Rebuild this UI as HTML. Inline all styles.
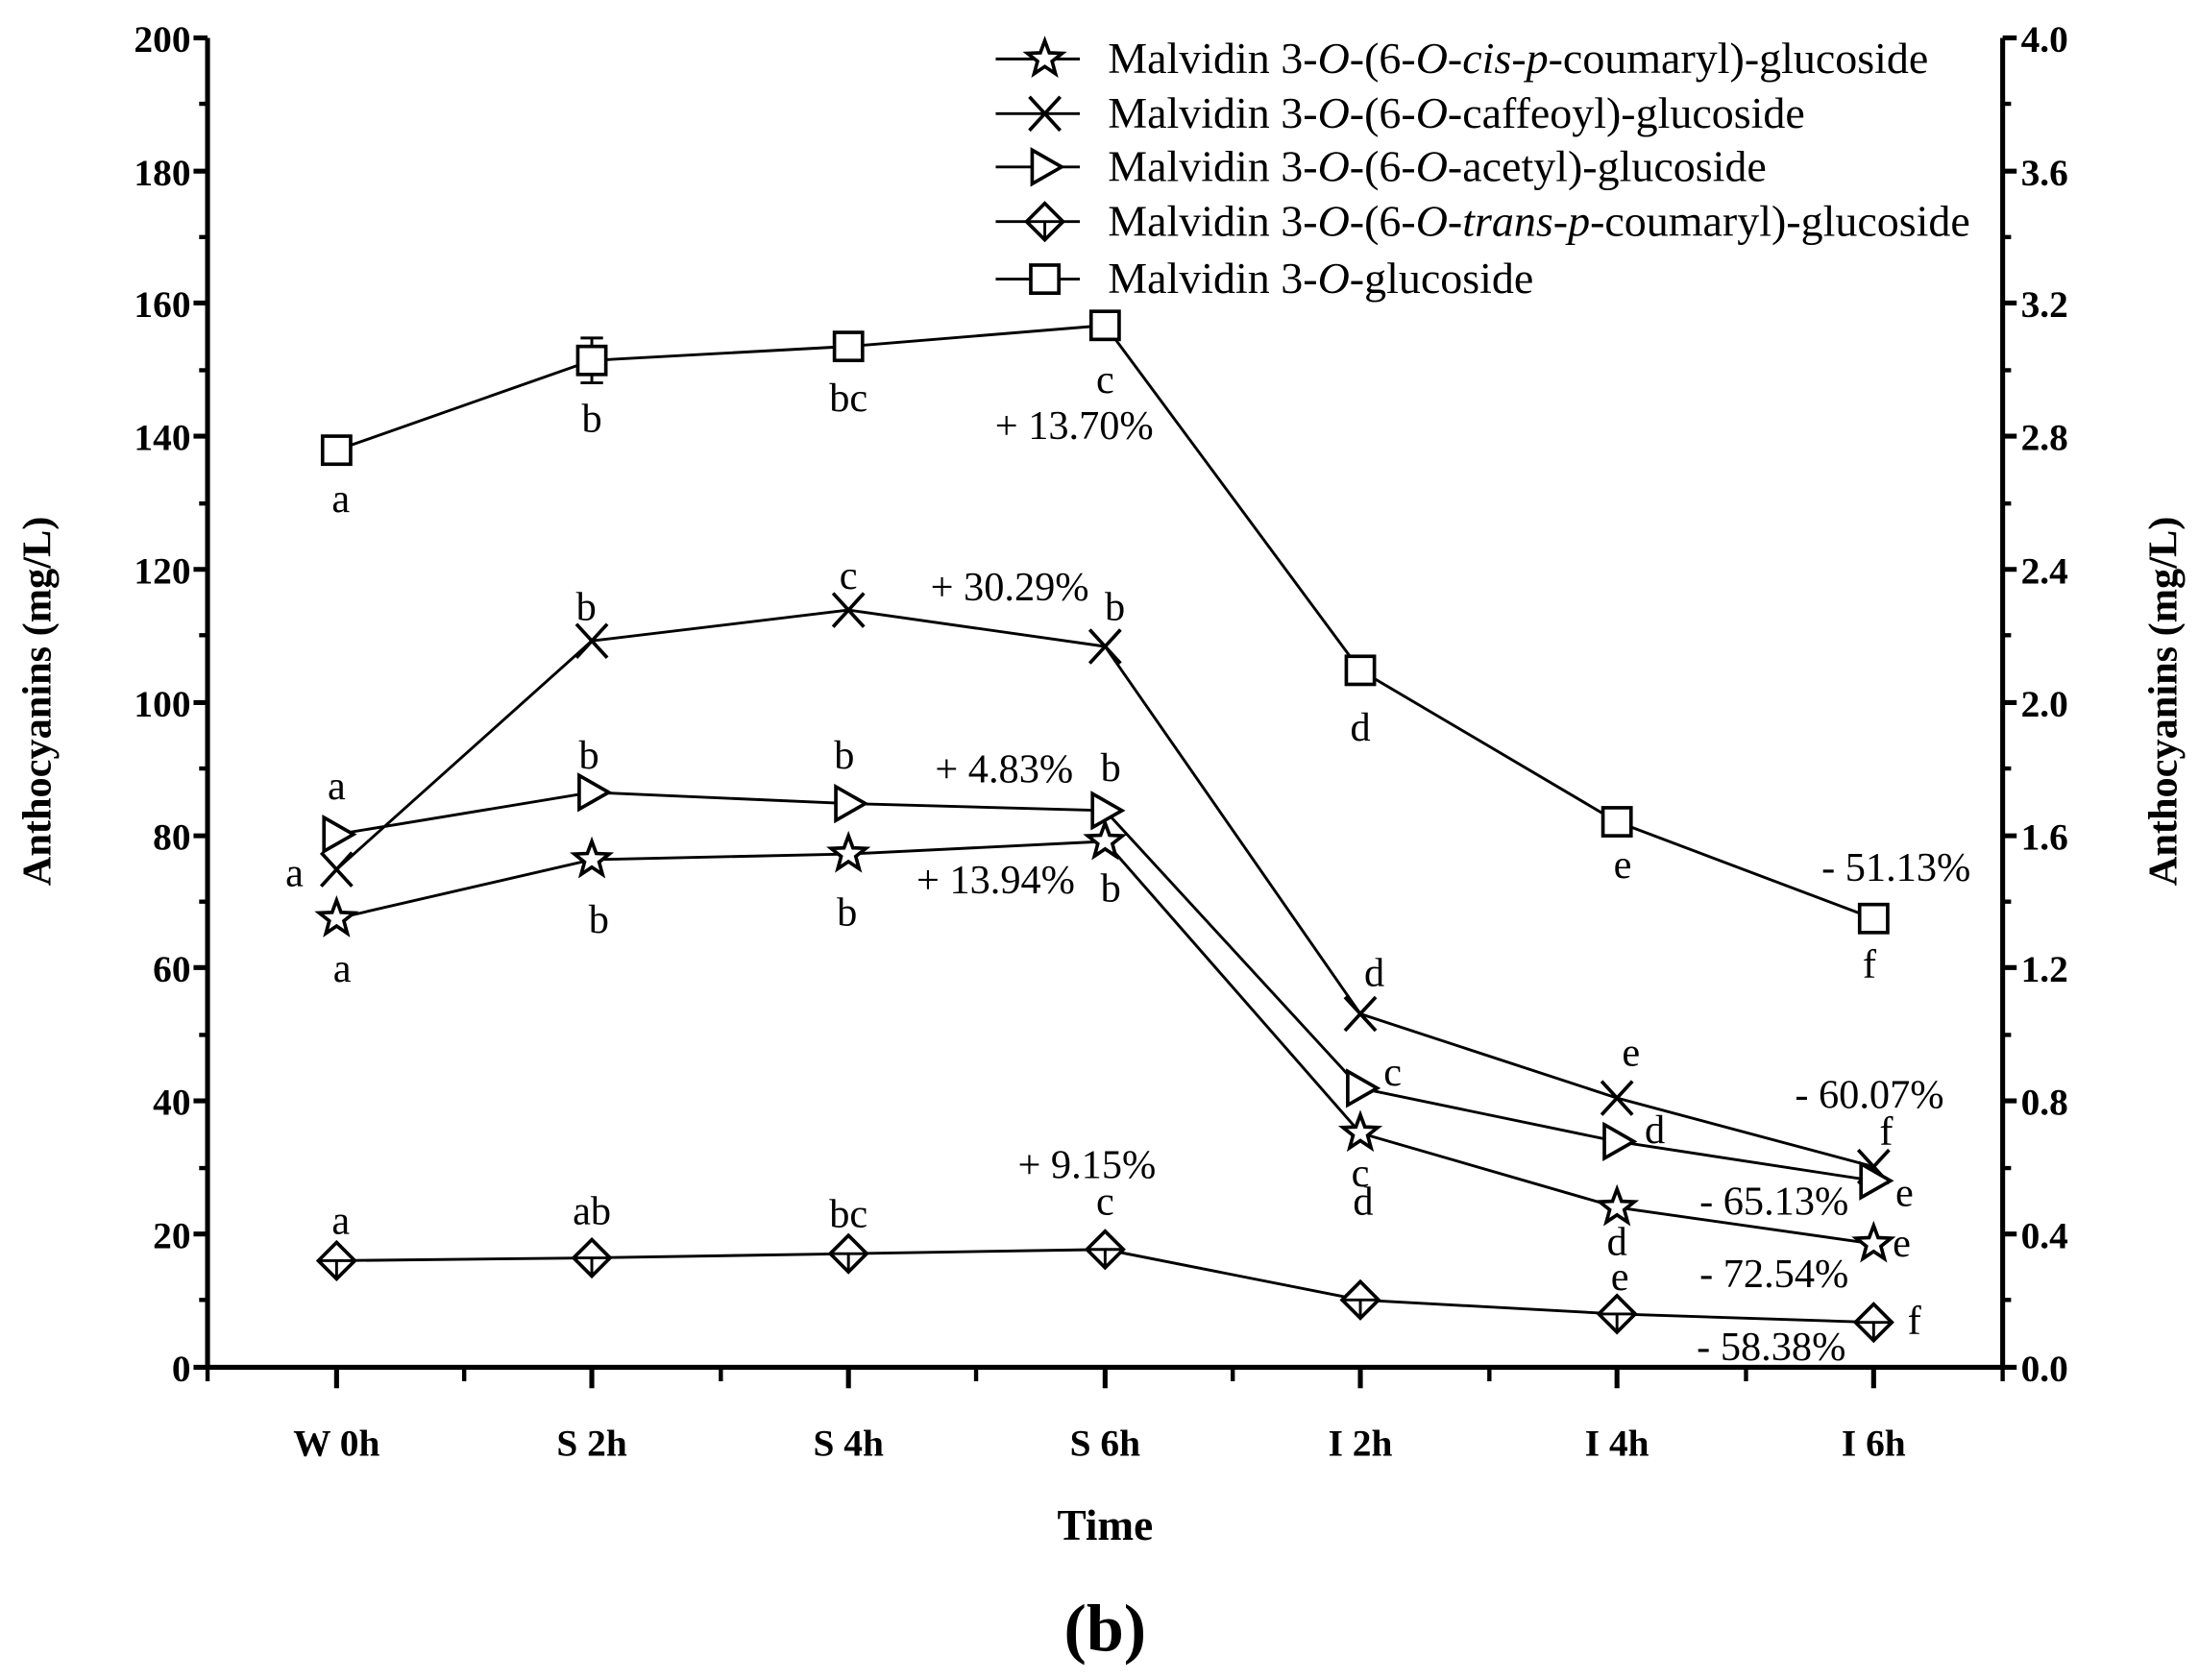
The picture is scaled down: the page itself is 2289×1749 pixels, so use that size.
<!DOCTYPE html>
<html><head><meta charset="utf-8"><style>html,body{margin:0;padding:0;background:#fff}svg{display:block}</style></head>
<body>
<svg width="2289" height="1749" viewBox="0 0 1568 1198" xmlns="http://www.w3.org/2000/svg" font-family="'Liberation Serif',serif">
<defs>
<g id="sq"><rect x="-10" y="-10" width="20" height="20" fill="#fff" stroke="#000" stroke-width="2.5"/></g>
<g id="x"><path d="M-11,-12L11,12M-11,12L11,-12" stroke="#000" stroke-width="2.5" fill="none"/></g>
<g id="tr"><polygon points="-9,-12 12,0 -9,12" fill="#fff" stroke="#000" stroke-width="2.5"/></g>
<g id="st"><polygon points="0,-13 3.2,-4.4 12.4,-4 5.2,1.7 7.6,10.5 0,5.4 -7.6,10.5 -5.2,1.7 -12.4,-4 -3.2,-4.4" fill="#fff" stroke="#000" stroke-width="2.5"/></g>
<g id="di"><polygon points="0,-13 13,0 0,13 -13,0" fill="#fff" stroke="#000" stroke-width="2.5"/><path d="M-13,0H13M0,0V13" stroke="#000" stroke-width="2"/></g>
</defs>
<g stroke="#000" fill="none">
<path d="M148,27V975H1428V27" stroke-width="3.5"/>
<path d="M138,27H148M138,122H148M138,216H148M138,311H148M138,406H148M138,501H148M138,596H148M138,690H148M138,785H148M138,880H148M138,975H148" stroke-width="3.5"/>
<path d="M142,74H148M142,169H148M142,264H148M142,359H148M142,453H148M142,548H148M142,643H148M142,738H148M142,833H148M142,927H148" stroke-width="3"/>
<path d="M1428,27H1438M1428,122H1438M1428,216H1438M1428,311H1438M1428,406H1438M1428,501H1438M1428,596H1438M1428,690H1438M1428,785H1438M1428,880H1438M1428,975H1438" stroke-width="3.5"/>
<path d="M1428,74H1434M1428,169H1434M1428,264H1434M1428,359H1434M1428,453H1434M1428,548H1434M1428,643H1434M1428,738H1434M1428,833H1434M1428,927H1434" stroke-width="3"/>
<path d="M240,975V990M422,975V990M605,975V990M788,975V990M970,975V990M1153,975V990M1336,975V990" stroke-width="3.5"/>
<path d="M148,975V985M331,975V985M514,975V985M696,975V985M879,975V985M1062,975V985M1245,975V985M1428,975V985" stroke-width="3"/>
<g stroke-width="2">
<polyline points="240,321 422,257 605,247 788,232 970,478 1153,586 1336,655"/>
<polyline points="240,620 422,457 605,435 788,461 970,723 1153,783 1336,832"/>
<polyline points="240,595 422,565 605,573 788,578 970,776 1153,814 1336,842"/>
<polyline points="240,655 422,613 605,609 788,600 970,808 1153,861 1336,887"/>
<polyline points="240,899 422,897 605,894 788,891 970,927 1153,937 1336,943"/>
<path d="M422,241V273M414,241H430M414,273H430"/>
<path d="M710,42H770M710,81H770M710,119H770M710,158H770M710,199H770"/>
</g>
</g>
<g>
<use href="#sq" x="240" y="321"/><use href="#sq" x="422" y="257"/><use href="#sq" x="605" y="247"/><use href="#sq" x="788" y="232"/><use href="#sq" x="970" y="478"/><use href="#sq" x="1153" y="586"/><use href="#sq" x="1336" y="655"/>
<use href="#x" x="240" y="620"/><use href="#x" x="422" y="457"/><use href="#x" x="605" y="435"/><use href="#x" x="788" y="461"/><use href="#x" x="970" y="723"/><use href="#x" x="1153" y="783"/><use href="#x" x="1336" y="832"/>
<use href="#tr" x="240" y="595"/><use href="#tr" x="422" y="565"/><use href="#tr" x="605" y="573"/><use href="#tr" x="788" y="578"/><use href="#tr" x="970" y="776"/><use href="#tr" x="1153" y="814"/><use href="#tr" x="1336" y="842"/>
<use href="#st" x="240" y="655"/><use href="#st" x="422" y="613"/><use href="#st" x="605" y="609"/><use href="#st" x="788" y="600"/><use href="#st" x="970" y="808"/><use href="#st" x="1153" y="861"/><use href="#st" x="1336" y="887"/>
<use href="#di" x="240" y="899"/><use href="#di" x="422" y="897"/><use href="#di" x="605" y="894"/><use href="#di" x="788" y="891"/><use href="#di" x="970" y="927"/><use href="#di" x="1153" y="937"/><use href="#di" x="1336" y="943"/>
<use href="#st" x="745" y="42"/><use href="#x" x="745" y="81"/><use href="#tr" x="745" y="119"/><use href="#di" x="745" y="158"/><use href="#sq" x="745" y="199"/>
</g>
<g font-size="27" font-weight="bold" text-anchor="end">
<text x="136" y="37">200</text><text x="136" y="132">180</text><text x="136" y="226">160</text><text x="136" y="321">140</text><text x="136" y="416">120</text><text x="136" y="511">100</text><text x="136" y="606">80</text><text x="136" y="700">60</text><text x="136" y="795">40</text><text x="136" y="890">20</text><text x="136" y="985">0</text>
</g>
<g font-size="27" font-weight="bold" text-anchor="start">
<text x="1441" y="37">4.0</text><text x="1441" y="132">3.6</text><text x="1441" y="226">3.2</text><text x="1441" y="321">2.8</text><text x="1441" y="416">2.4</text><text x="1441" y="511">2.0</text><text x="1441" y="606">1.6</text><text x="1441" y="700">1.2</text><text x="1441" y="795">0.8</text><text x="1441" y="890">0.4</text><text x="1441" y="985">0.0</text>
</g>
<g font-size="27" font-weight="bold" text-anchor="middle">
<text x="240" y="1038">W 0h</text><text x="422" y="1038">S 2h</text><text x="605" y="1038">S 4h</text><text x="788" y="1038">S 6h</text><text x="970" y="1038">I 2h</text><text x="1153" y="1038">I 4h</text><text x="1336" y="1038">I 6h</text>
<text x="788" y="1098" font-size="31">Time</text>
<text x="788" y="1177" font-size="48">(b)</text>
<text transform="translate(36,500) rotate(-90)" font-size="29">Anthocyanins  (mg/L)</text>
<text transform="translate(1552,500) rotate(-90)" font-size="29">Anthocyanins  (mg/L)</text>
</g>
<g font-size="31.5">
<text x="790" y="52">Malvidin 3-<tspan font-style="italic">O</tspan>-(6-<tspan font-style="italic">O</tspan>-<tspan font-style="italic">cis</tspan>-<tspan font-style="italic">p</tspan>-coumaryl)-glucoside</text>
<text x="790" y="91">Malvidin 3-<tspan font-style="italic">O</tspan>-(6-<tspan font-style="italic">O</tspan>-caffeoyl)-glucoside</text>
<text x="790" y="129">Malvidin 3-<tspan font-style="italic">O</tspan>-(6-<tspan font-style="italic">O</tspan>-acetyl)-glucoside</text>
<text x="790" y="168">Malvidin 3-<tspan font-style="italic">O</tspan>-(6-<tspan font-style="italic">O</tspan>-<tspan font-style="italic">trans</tspan>-<tspan font-style="italic">p</tspan>-coumaryl)-glucoside</text>
<text x="790" y="209">Malvidin 3-<tspan font-style="italic">O</tspan>-glucoside</text>
</g>
<g font-size="29" text-anchor="middle">
<text x="243" y="365">a</text><text x="422" y="308">b</text><text x="605" y="293">bc</text><text x="788" y="280">c</text><text x="766" y="313">+ 13.70%</text><text x="970" y="528">d</text><text x="1157" y="626">e</text><text x="1333" y="697">f</text><text x="1352" y="628">- 51.13%</text>
<text x="210" y="632">a</text><text x="418" y="442">b</text><text x="605" y="420">c</text><text x="795" y="442">b</text><text x="720" y="428">+ 30.29%</text><text x="980" y="703">d</text><text x="1163" y="760">e</text><text x="1345" y="816">f</text><text x="1333" y="790">- 60.07%</text>
<text x="240" y="570">a</text><text x="420" y="548">b</text><text x="602" y="548">b</text><text x="792" y="557">b</text><text x="716" y="558">+ 4.83%</text><text x="993" y="774">c</text><text x="1180" y="815">d</text><text x="1358" y="860">e</text>
<text x="244" y="700">a</text><text x="427" y="665">b</text><text x="604" y="660">b</text><text x="792" y="643">b</text><text x="710" y="637">+ 13.94%</text><text x="970" y="846">c</text><text x="1153" y="895">d</text><text x="1356" y="896">e</text><text x="1265" y="866">- 65.13%</text><text x="1265" y="918">- 72.54%</text>
<text x="243" y="880">a</text><text x="422" y="873">ab</text><text x="605" y="875">bc</text><text x="788" y="866">c</text><text x="775" y="840">+ 9.15%</text><text x="972" y="866">d</text><text x="1155" y="920">e</text><text x="1365" y="951">f</text><text x="1263" y="970">- 58.38%</text>
</g>
</svg>
</body></html>
